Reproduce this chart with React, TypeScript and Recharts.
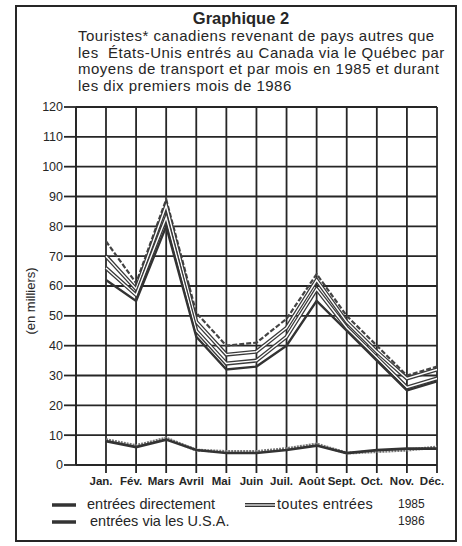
import React from "react";
import { LineChart, Line, XAxis, YAxis, CartesianGrid } from "recharts";

const months = ["Jan.", "Fév.", "Mars", "Avril", "Mai", "Juin", "Juil.", "Août", "Sept.", "Oct.", "Nov.", "Déc."];
const yTicks = [0, 10, 20, 30, 40, 50, 60, 70, 80, 90, 100, 110, 120];

// toutes entrées
const toutes1985 = [75, 61, 89, 51, 40, 41, 49, 64, 50, 40, 30, 33];
const toutes1986 = [70, 59, 87, 48, 37, 38, 46, 62, 48, 38, 29, 32];
// entrées directement
const direct1985 = [66, 57, 83, 45, 34, 35, 43, 59, 46, 36, 26, 29];
const direct1986 = [62, 55, 80, 43, 32, 33, 40, 55, 45, 35, 25, 28];
// entrées via les U.S.A.
const usa1985 = [8.5, 6.5, 9, 5, 4.5, 4.5, 5.5, 7, 4, 4.5, 5, 6];
const usa1986 = [8, 6, 8.5, 5, 4, 4, 5, 6.5, 4, 5, 5.5, 5.5];

const data = months.map((mois, i) => ({
  mois,
  toutes1985: toutes1985[i],
  toutes1986: toutes1986[i],
  direct1985: direct1985[i],
  direct1986: direct1986[i],
  usa1985: usa1985[i],
  usa1986: usa1986[i],
}));

const ink = "#262626";
const font = "'Liberation Sans', Arial, sans-serif";

const MonthTick = (props: any) => {
  const { x, y, payload } = props;
  return (
    <text x={x - 5} y={y + 10} textAnchor="middle" fontSize={11.5} fontWeight="bold" fill={ink} fontFamily={font}>
      {payload.value}
    </text>
  );
};

export default function App() {
  return (
    <div style={{ position: "absolute", left: 0, top: 0, width: 462, height: 546, background: "#fff", fontFamily: font, color: ink }}>
      <div style={{ position: "absolute", left: 15, top: 5, width: 438, height: 533, border: `2px solid ${ink}` }} />
      <div style={{ position: "absolute", left: 0, width: 482, top: 9, textAlign: "center", fontSize: 16.5, fontWeight: "bold" }}>
        Graphique 2
      </div>
      <div style={{ position: "absolute", left: 78, top: 28, fontSize: 15, letterSpacing: 0.5, lineHeight: "16.7px", whiteSpace: "nowrap" }}>
        Touristes* canadiens revenant de pays autres que
        <br />
        les&nbsp; États-Unis entrés au Canada via le Québec par
        <br />
        moyens de transport et par mois en 1985 et durant
        <br />
        les dix premiers mois de 1986
      </div>
      <div
        style={{
          position: "absolute",
          left: 30,
          top: 301,
          fontSize: 13,
          transform: "translate(-50%, -50%) rotate(-90deg)",
          whiteSpace: "nowrap",
        }}
      >
        (en milliers)
      </div>

      <div style={{ position: "absolute", left: 0, top: 0 }}>
        <LineChart width={462} height={546} data={data} margin={{ top: 107, right: 25, bottom: 51, left: 20 }}>
          <CartesianGrid stroke={ink} strokeWidth={1.8} />
          <XAxis
            dataKey="mois"
            height={30}
            padding={{ left: 30 }}
            tick={<MonthTick />}
            tickSize={8}
            axisLine={{ stroke: ink, strokeWidth: 1.8 }}
            tickLine={{ stroke: ink, strokeWidth: 1.8 }}
            interval={0}
          />
          <YAxis
            width={56}
            domain={[0, 120]}
            ticks={yTicks}
            interval={0}
            tickSize={12}
            tickMargin={1}
            axisLine={{ stroke: ink, strokeWidth: 1.8 }}
            tickLine={{ stroke: ink, strokeWidth: 1.8 }}
            tick={{ fontSize: 12.5, fill: ink, fontFamily: font }}
          />
          <Line dataKey="toutes1985" stroke="#444" strokeWidth={2.2} strokeDasharray="5 2" dot={false} isAnimationActive={false} />
          <Line dataKey="toutes1986" stroke="#3a3a3a" strokeWidth={4} dot={false} isAnimationActive={false} />
          <Line key="t86w" dataKey="toutes1986" stroke="#fff" strokeWidth={1.4} dot={false} isAnimationActive={false} />
          <Line dataKey="direct1985" stroke="#3a3a3a" strokeWidth={4} dot={false} isAnimationActive={false} />
          <Line key="d85w" dataKey="direct1985" stroke="#fff" strokeWidth={1.4} dot={false} isAnimationActive={false} />
          <Line dataKey="direct1986" stroke="#333" strokeWidth={2.4} dot={false} isAnimationActive={false} />
          <Line dataKey="usa1985" stroke="#777" strokeWidth={3} strokeDasharray="2 1" dot={false} isAnimationActive={false} />
          <Line dataKey="usa1986" stroke="#333" strokeWidth={2.6} dot={false} isAnimationActive={false} />
        </LineChart>
      </div>

      <svg style={{ position: "absolute", left: 0, top: 0 }} width={462} height={546}>
        <line x1={52} x2={76} y1={505} y2={505} stroke="#333" strokeWidth={3.5} />
        <line x1={245} x2={275} y1={505} y2={505} stroke="#333" strokeWidth={4} />
        <line x1={245} x2={275} y1={505} y2={505} stroke="#fff" strokeWidth={1.2} />
        <line x1={52} x2={76} y1={522} y2={522} stroke="#333" strokeWidth={3.5} />
      </svg>
      <div style={{ position: "absolute", left: 87, top: 496, fontSize: 14.5, whiteSpace: "nowrap" }}>entrées directement</div>
      <div style={{ position: "absolute", left: 277, top: 496, fontSize: 14.5, letterSpacing: 0.3, whiteSpace: "nowrap" }}>toutes entrées</div>
      <div style={{ position: "absolute", left: 398, top: 497, fontSize: 12, whiteSpace: "nowrap" }}>1985</div>
      <div style={{ position: "absolute", left: 90, top: 513, fontSize: 14.5, whiteSpace: "nowrap" }}>entrées via les U.S.A.</div>
      <div style={{ position: "absolute", left: 398, top: 514, fontSize: 12, whiteSpace: "nowrap" }}>1986</div>
    </div>
  );
}
